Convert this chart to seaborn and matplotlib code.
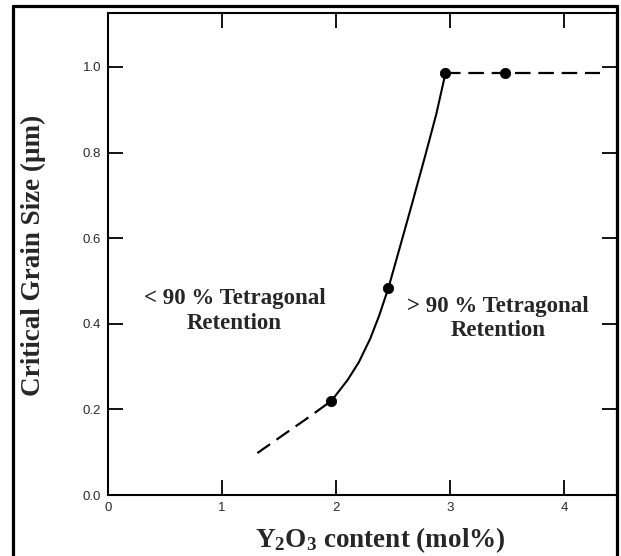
import matplotlib
matplotlib.use("Agg")
import matplotlib.pyplot as plt
from matplotlib.lines import Line2D
import seaborn as sns
import pandas as pd

# ---- data ----
dash_x = [1.31, 1.45, 1.60, 1.72, 1.83, 1.96]
dash_y = [0.098, 0.124, 0.152, 0.174, 0.195, 0.220]

solid_x = [1.96, 2.10, 2.20, 2.30, 2.38, 2.46, 2.53, 2.65, 2.78, 2.88, 2.96]
solid_y = [0.220, 0.268, 0.310, 0.365, 0.420, 0.484, 0.550, 0.664, 0.790, 0.890, 0.985]

plateau_x = [2.96, 4.32]
plateau_y = [0.985, 0.985]

dot_x = [1.96, 2.46, 2.96, 3.48]
dot_y = [0.220, 0.484, 0.985, 0.985]

x_ticks = [0, 1, 2, 3, 4]
x_ticklabels = ["0", "1", "2", "3", "4"]
y_ticks = [0.0, 0.2, 0.4, 0.6, 0.8, 1.0]
y_ticklabels = ["0.0", "0.2", "0.4", "0.6", "0.8", "1.0"]

label_left = "< 90 % Tetragonal\nRetention"
label_right = "> 90 % Tetragonal\nRetention"
xlabel = r"Y$_\mathbf{2}$O$_\mathbf{3}$ content (mol%)"
ylabel = "Critical Grain Size (\u03bcm)"

sns.set_theme(style="white")
plt.rcParams['mathtext.fontset'] = 'custom'
plt.rcParams['mathtext.rm'] = 'Liberation Serif:bold'
plt.rcParams['mathtext.bf'] = 'Liberation Serif:bold'
plt.rcParams['mathtext.it'] = 'Liberation Serif:bold'

W, H = 621, 556
fig = plt.figure(figsize=(W / 100, H / 100), dpi=100)
ax = fig.add_axes([108 / W, 1 - 495 / H, (617 - 108) / W, (495 - 13) / H])

df_dash = pd.DataFrame({"x": dash_x, "y": dash_y})
df_solid = pd.DataFrame({"x": solid_x, "y": solid_y})
df_plat = pd.DataFrame({"x": plateau_x, "y": plateau_y})
df_dot = pd.DataFrame({"x": dot_x, "y": dot_y})

sns.lineplot(data=df_dash, x="x", y="y", ax=ax, color="black", lw=1.6,
             estimator=None)
ax.lines[-1].set_dashes((7, 3.5))
sns.lineplot(data=df_solid, x="x", y="y", ax=ax, color="black", lw=1.5,
             estimator=None)
sns.lineplot(data=df_plat, x="x", y="y", ax=ax, color="black", lw=1.6,
             estimator=None)
ax.lines[-1].set_dashes((7, 3.5))
sns.scatterplot(data=df_dot, x="x", y="y", ax=ax, color="black", s=55,
                edgecolor="black", zorder=5)

ax.set_xlim(0, 4.465)
ax.set_ylim(0, 1.126)
ax.set_xticks(x_ticks)
ax.set_xticklabels(x_ticklabels)
ax.set_yticks(y_ticks)
ax.set_yticklabels(y_ticklabels)
ax.tick_params(direction="in", length=11, width=1.3, color="black",
               top=True, right=True, bottom=True, left=True,
               labelsize=9.5, labelcolor="#2a2a2a", pad=5)
for lab in ax.get_xticklabels() + ax.get_yticklabels():
    lab.set_family(["Liberation Sans", "DejaVu Sans"])

for side in ["left", "bottom", "top"]:
    ax.spines[side].set_linewidth(1.5)
    ax.spines[side].set_color("black")
ax.spines["right"].set_linewidth(2.2)
ax.spines["right"].set_color("black")

ax.set_xlabel("")
ax.set_ylabel("")

serif = ["Liberation Serif", "DejaVu Serif"]
fig.text(380 / W, 1 - 540 / H, xlabel, ha="center", va="center",
         fontsize=19.5, fontweight="bold", family=serif)
fig.text(33 / W, 1 - 255 / H, ylabel, ha="center", va="center",
         rotation=90, fontsize=19.5, fontweight="bold", family=serif)

ax.text(1.11, 0.43, label_left, ha="center", va="center",
        fontsize=16.5, fontweight="bold", family=serif, linespacing=1.2)
ax.text(3.42, 0.412, label_right, ha="center", va="center",
        fontsize=16.5, fontweight="bold", family=serif, linespacing=1.2)

# outer frame of the picture
lw_frame = 2.3
fig.add_artist(Line2D([13 / W, 13 / W], [0, 1 - 6 / H], transform=fig.transFigure,
                      color="black", lw=lw_frame))
fig.add_artist(Line2D([13 / W, 617 / W], [1 - 6 / H, 1 - 6 / H], transform=fig.transFigure,
                      color="black", lw=lw_frame))
fig.add_artist(Line2D([617 / W, 617 / W], [0, 1 - 6 / H], transform=fig.transFigure,
                      color="black", lw=lw_frame))

fig.savefig("out.png", dpi=100)
